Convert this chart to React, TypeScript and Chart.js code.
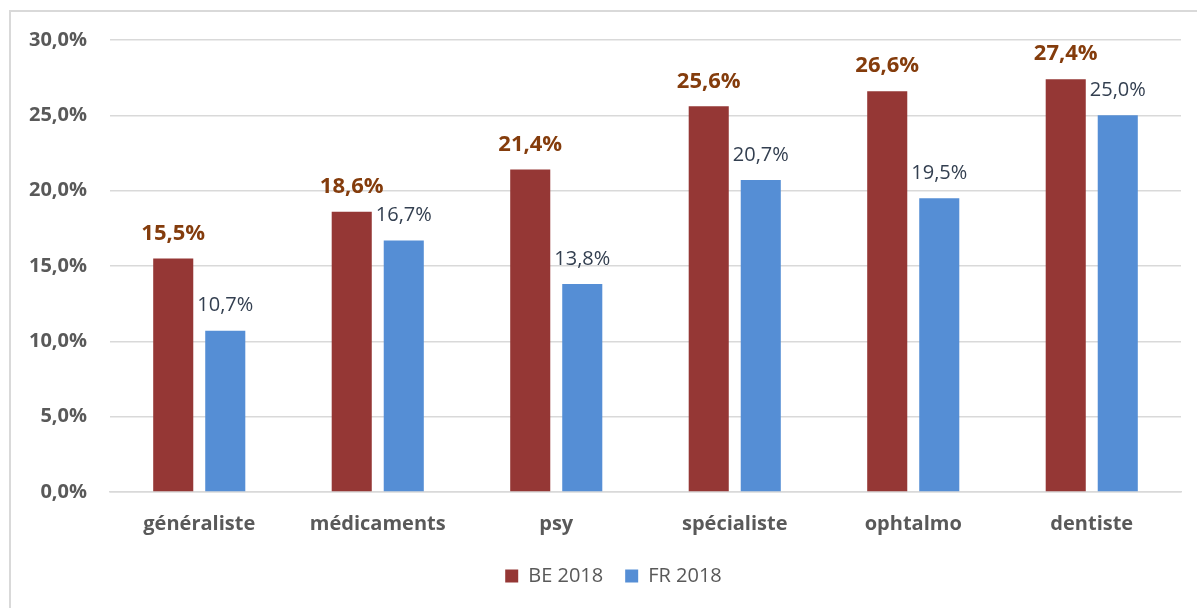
import React, { useEffect, useRef } from "react";
import { Chart, registerables } from "chart.js";

Chart.register(...registerables);

const categories = ["généraliste", "médicaments", "psy", "spécialiste", "ophtalmo", "dentiste"];
const beValues = [15.5, 18.6, 21.4, 25.6, 26.6, 27.4];
const frValues = [10.7, 16.7, 13.8, 20.7, 19.5, 25.0];
const seriesNames = ["BE 2018", "FR 2018"];
const yTicks = [0, 5, 10, 15, 20, 25, 30];

const FONT = "'Open Sans', Lato, sans-serif";
const fmt = (v: number) => v.toFixed(1).replace(".", ",") + "%";

const labelPlugin = {
  id: "barLabels",
  afterDatasetsDraw(chart: any) {
    const ctx = chart.ctx;
    ctx.save();
    ctx.textAlign = "center";
    ctx.textBaseline = "middle";
    chart.data.datasets.forEach((ds: any, di: number) => {
      const meta = chart.getDatasetMeta(di);
      meta.data.forEach((bar: any, i: number) => {
        const v = ds.data[i];
        if (di === 0) {
          ctx.font = `bold 22px ${FONT}`;
          ctx.fillStyle = "#843C0C";
          ctx.fillText(fmt(v), bar.x, bar.y - 25);
        } else {
          ctx.font = `20px ${FONT}`;
          ctx.fillStyle = "#333F50";
          ctx.fillText(fmt(v), bar.x, bar.y - 25);
        }
      });
    });
    ctx.restore();
  },
};

const legendShift = {
  id: "legendShift",
  afterLayout(chart: any) {
    if (chart.legend) {
      chart.legend.left += 23;
      chart.legend.right += 23;
    }
  },
};

export default function App() {
  const ref = useRef<HTMLCanvasElement | null>(null);
  useEffect(() => {
    if (!ref.current) return;
    const chart = new Chart(ref.current, {
      type: "bar",
      data: {
        labels: categories,
        datasets: [
          {
            label: seriesNames[0],
            data: beValues,
            backgroundColor: "#953735",
            categoryPercentage: 0.583,
            barPercentage: 0.77,
          },
          {
            label: seriesNames[1],
            data: frValues,
            backgroundColor: "#558ED5",
            categoryPercentage: 0.583,
            barPercentage: 0.77,
          },
        ],
      },
      options: {
        animation: false,
        responsive: false,
        maintainAspectRatio: false,
        layout: { padding: { top: 40, left: 0, right: 16, bottom: 12 } },
        plugins: {
          tooltip: { enabled: false },
          legend: {
            position: "bottom",
            labels: {
              boxWidth: 13,
              boxHeight: 13,
              padding: 22,
              color: "#595959",
              font: { family: FONT, size: 20 },
            },
          },
        },
        scales: {
          x: {
            afterFit: (scale: any) => {
              scale.height = 52;
            },
            grid: { display: false, drawTicks: false },
            border: { display: true, color: "#d9d9d9", width: 1.5 },
            ticks: {
              color: "#595959",
              font: { family: FONT, size: 20, weight: "bold" },
              padding: 20,
            },
          },
          y: {
            min: 0,
            max: 30,
            afterBuildTicks: (scale: any) => {
              scale.ticks = yTicks.map((v) => ({ value: v }));
            },
            afterFit: (scale: any) => {
              scale.width = 110;
            },
            grid: { color: "#d9d9d9", lineWidth: 1.5, drawTicks: false },
            border: { display: false },
            ticks: {
              color: "#595959",
              font: { family: FONT, size: 20, weight: "bold" },
              padding: 23,
              callback: (v: any) => fmt(Number(v)),
            },
          },
        },
      },
      plugins: [labelPlugin, legendShift],
    });
    return () => chart.destroy();
  }, []);

  return (
    <div style={{ position: "fixed", left: 0, top: 0, width: 1197, height: 608, background: "#fff", overflow: "hidden" }}>
      <div
        style={{
          position: "absolute",
          left: 9,
          top: 10,
          width: 1300,
          height: 700,
          border: "2px solid #d9d9d9",
          boxSizing: "border-box",
        }}
      />
      <canvas ref={ref} width={1197} height={608} style={{ position: "absolute", left: 0, top: 0 }} />
    </div>
  );
}
